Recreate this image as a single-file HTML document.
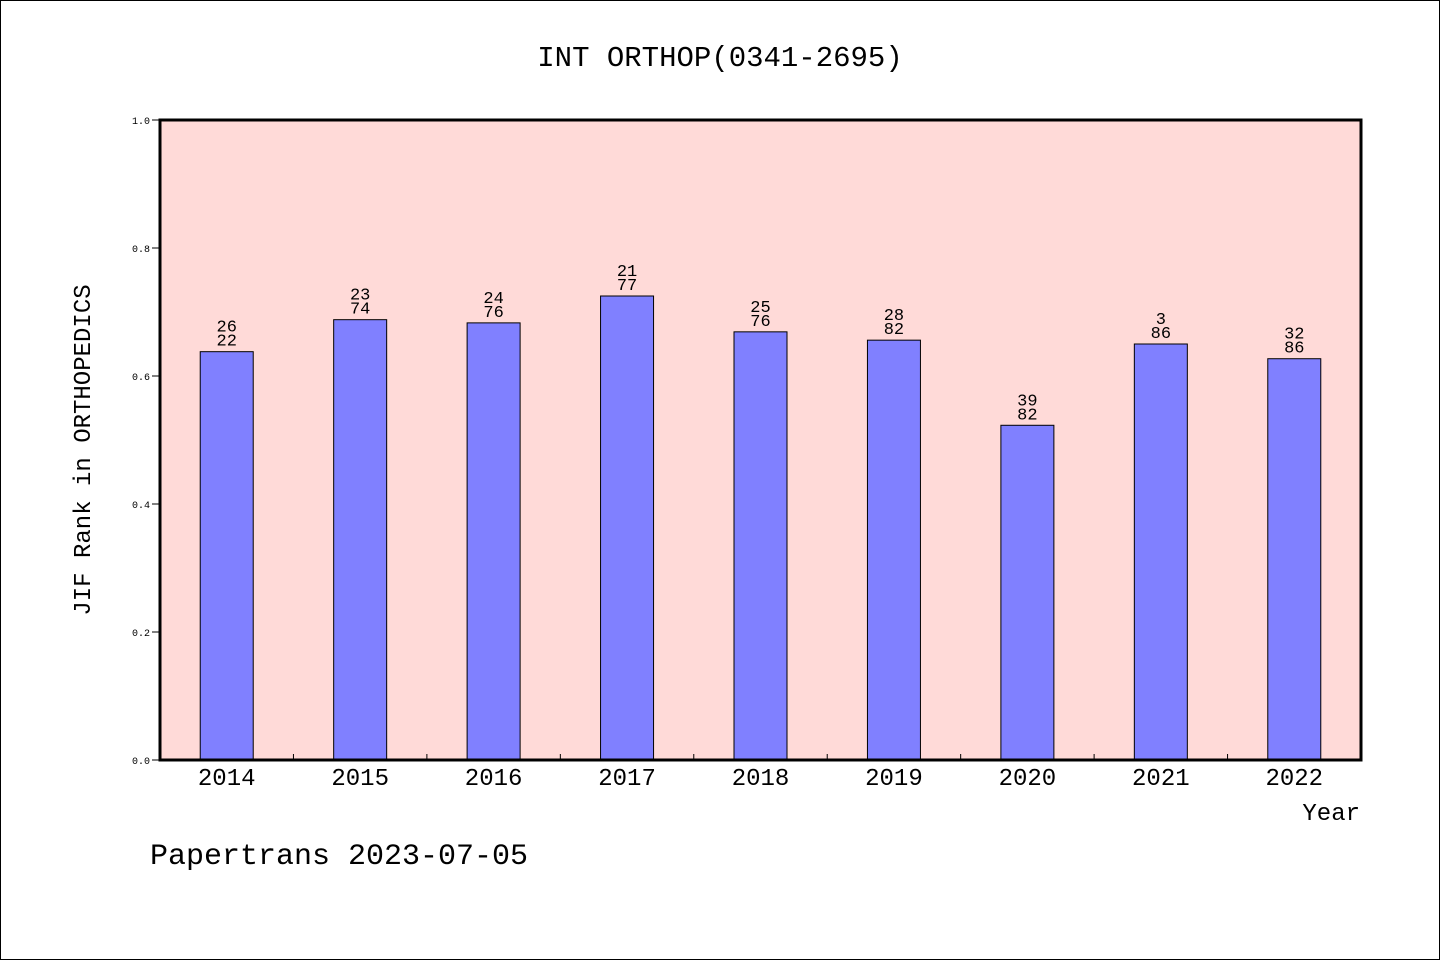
<!DOCTYPE html>
<html><head><meta charset="utf-8"><style>
html,body{margin:0;padding:0;background:#fff}
svg text{font-family:"WenQuanYi Zen Hei Mono","Liberation Mono","WenQuanYi Zen Hei",monospace}
</style></head><body>
<svg id="chart" width="1440" height="960" xmlns="http://www.w3.org/2000/svg">
<rect x="0.5" y="0.5" width="1439" height="959" fill="#fff" stroke="#000"/>
<text x="720" y="66" font-size="29" text-anchor="middle">INT ORTHOP(0341-2695)</text>
<rect x="160" y="120" width="1201" height="640" fill="#ffdad8"/>
<g id="yaxis"></g><g id="bars"></g>
<rect x="160" y="120" width="1201" height="640" fill="none" stroke="#000" stroke-width="3"/>
<text transform="translate(90,450) rotate(-90)" font-size="24" text-anchor="middle">JIF Rank in ORTHOPEDICS</text>
<text x="1360" y="820" font-size="24" text-anchor="end">Year</text>
<text x="150" y="864" font-size="30">Papertrans 2023-07-05</text>
</svg>
<script>
const years=["2014","2015","2016","2017","2018","2019","2020","2021","2022"];
const values=[0.638,0.688,0.683,0.725,0.669,0.656,0.523,0.650,0.627];
const ranks=["26","23","24","21","25","28","39","3","32"];
const totals=["22","74","76","77","76","82","82","86","86"];
const yTicks=[0,0.2,0.4,0.6,0.8,1.0];
const NS="http://www.w3.org/2000/svg";
const X0=160,W=1201,Y0=760,H=640;
const band=W/years.length;
const y=v=>Y0-v*H;
const xc=i=>X0+band*(i+0.5);
function mk(t,a,p){const e=document.createElementNS(NS,t);for(const k in a)e.setAttribute(k,a[k]);p.appendChild(e);return e;}
const ya=document.getElementById('yaxis'),bg=document.getElementById('bars');
yTicks.forEach(v=>{
 const l=mk('line',{x1:152,x2:160,y1:y(v),y2:y(v),stroke:'#000'},ya);
 
 
 const t=mk('text',{x:150,y:y(v)+4,'font-size':10,'text-anchor':'end'},ya);
 t.textContent=v.toFixed(1);
 
 
});
years.forEach((yr,i)=>{
 if(i>0){const tk=mk('line',{x1:X0+band*i,x2:X0+band*i,y1:Y0,y2:Y0-6,stroke:'#000'},bg);
 
 }
 const bw=53;
 const r=mk('rect',{x:xc(i)-bw/2,y:y(values[i]),width:bw,height:Y0-y(values[i]),fill:'#8080ff',stroke:'#000','stroke-width':1},bg);
 
 
 const t1=mk('text',{x:xc(i),y:y(values[i])-20,'font-size':17,'text-anchor':'middle'},bg);
 t1.textContent=ranks[i];
 
 
 const t2=mk('text',{x:xc(i),y:y(values[i])-6,'font-size':17,'text-anchor':'middle'},bg);
 t2.textContent=totals[i];
 
 
 const xl=mk('text',{x:xc(i),y:785,'font-size':24,'text-anchor':'middle'},bg);
 xl.textContent=yr;
 
 
});
</script>
</body></html>
